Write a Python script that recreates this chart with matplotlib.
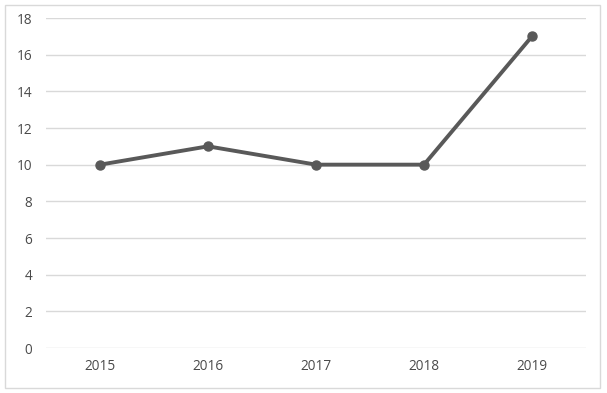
import matplotlib.pyplot as plt
from matplotlib.patches import Rectangle

# data
years = ['2015', '2016', '2017', '2018', '2019']
values = [10, 11, 10, 10, 17]
y_ticks = [0, 2, 4, 6, 8, 10, 12, 14, 16, 18]

plt.rcParams['font.family'] = ['Open Sans', 'DejaVu Sans']

fig = plt.figure(figsize=(6.07, 3.93), dpi=100)
ax = fig.add_axes([46 / 607, 1 - 348 / 393, 540 / 607, 330 / 393])

x = list(range(len(years)))
ax.plot(x, values, color='#595959', linewidth=2.8, marker='o',
        markersize=6.5, zorder=3)

ax.set_xlim(-0.5, len(years) - 0.5)
ax.set_ylim(0, 18)
ax.set_yticks(y_ticks)
ax.set_xticks(x)
ax.set_xticklabels(years)
ax.grid(axis='y', color='#d9d9d9', linewidth=1)
ax.set_axisbelow(True)
for s in ax.spines.values():
    s.set_visible(False)
ax.tick_params(length=0, labelsize=9.8, labelcolor='#4a4a4a', pad=8)
ax.tick_params(axis='y', pad=10)

# light border around the whole chart
fig.patches.append(Rectangle((5 / 607, 5 / 393), 595 / 607, 383 / 393,
                             transform=fig.transFigure, fill=False,
                             edgecolor='#d9d9d9', linewidth=1))

plt.savefig('out.png')
